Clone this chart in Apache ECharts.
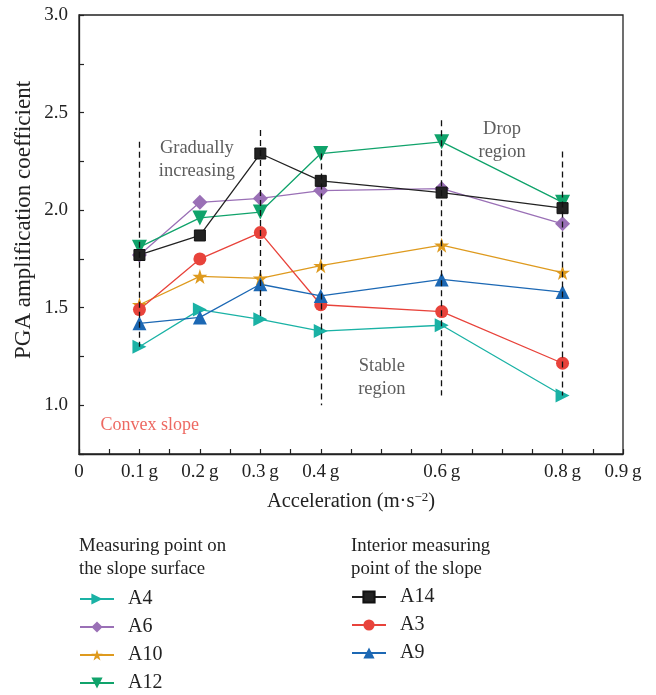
<!DOCTYPE html>
<html>
<head>
<meta charset="utf-8">
<script src="https://cdn.jsdelivr.net/npm/echarts@6/dist/echarts.min.js"></script>
<style>
  html, body { margin: 0; padding: 0; background: #fff; }
  #chart { width: 656px; height: 695px; }
</style>
</head>
<body>
<div id="chart"></div>
<script>
// Peak ground acceleration levels (g) at which the amplification was measured
const accel = [0.1, 0.2, 0.3, 0.4, 0.6, 0.8];

// Measuring points on the slope surface
const A4  = [1.30, 1.49, 1.44, 1.38, 1.41, 1.05];
const A6  = [1.77, 2.04, 2.06, 2.10, 2.11, 1.93];
const A10 = [1.515, 1.66, 1.65, 1.715, 1.82, 1.68];
const A12 = [1.81, 1.96, 1.99, 2.29, 2.35, 2.04];

// Interior measuring points of the slope
const A14 = [1.77, 1.87, 2.29, 2.15, 2.09, 2.01];
const A3  = [1.49, 1.75, 1.885, 1.515, 1.48, 1.215];
const A9  = [1.42, 1.45, 1.62, 1.56, 1.645, 1.58];

// Axis tick labels
const xTickValues = [0, 0.1, 0.2, 0.3, 0.4, 0.6, 0.8, 0.9];
const yTickValues = [1.0, 1.5, 2.0, 2.5, 3.0];

// Region boundaries: [acceleration, top, bottom]
const boundaries = [
  [0.1, 2.35, 1.30],
  [0.3, 2.41, 1.44],
  [0.4, 2.29, 1.00],
  [0.6, 2.46, 1.05],
  [0.8, 2.30, 1.05]
];

// Region notes, anchored in data units
const notes = [
  { text: 'Gradually\nincreasing', x: 0.195, y: 2.26 },
  { text: 'Drop\nregion', x: 0.700, y: 2.355 },
  { text: 'Stable\nregion', x: 0.501, y: 1.14 },
  { text: 'Convex slope', x: 0.117, y: 0.895, red: true }
];

const FONT = 'Liberation Serif';
const INK = '#222';
const STAR = 'path://M50,0 L61.2,34.5 L97.6,34.5 L68.2,55.9 L79.4,90.5 L50,69.1 L20.6,90.5 L31.8,55.9 L2.4,34.5 L38.8,34.5 Z';
const TRI_RIGHT = 'path://M0,0 L10,5.5 L0,11 Z';
const TRI_DOWN = 'path://M0,0 L11,0 L5.5,10 Z';

function pts(arr) { return accel.map((x, i) => [x, arr[i]]); }

function mkSeries(name, arr, color, symbol, size, border) {
  return {
    name: name,
    type: 'line',
    data: pts(arr),
    symbol: symbol,
    symbolSize: size,
    showAllSymbol: true,
    lineStyle: { color: color, width: 1.3 },
    itemStyle: { color: color, borderColor: border || color, borderWidth: border ? 1 : 0 },
    emphasis: { disabled: true },
    z: 3
  };
}

const legendBase = {
  orient: 'vertical',
  padding: 0,
  itemWidth: 34, itemHeight: 14, itemGap: 8,
  textStyle: { fontSize: 20, fontFamily: FONT, color: INK, padding: [0, 0, 0, 9], lineHeight: 20 },
  selectedMode: false
};

const chart = echarts.init(document.getElementById('chart'), null, { renderer: 'canvas' });

const option = {
  backgroundColor: '#fff',
  animation: false,
  textStyle: { fontFamily: FONT },
  grid: {
    left: 79, right: 33, top: 15, bottom: 241,
    show: true, borderColor: INK, borderWidth: 1.3, backgroundColor: 'transparent'
  },
  xAxis: {
    type: 'value',
    min: 0, max: 0.9, interval: 0.05,
    axisLine: { lineStyle: { color: INK, width: 1.3 } },
    axisTick: { inside: true, length: 5, lineStyle: { color: INK, width: 1.2 } },
    splitLine: { show: false },
    axisLabel: {
      color: INK, fontSize: 19, fontFamily: FONT, margin: 9,
      showMinLabel: true, showMaxLabel: true,
      formatter: function (v) {
        const k = Math.round(v * 100);
        const hit = xTickValues.find(t => Math.round(t * 100) === k);
        if (hit === undefined) return '';
        return hit === 0 ? '0' : hit + '\u2009g';
      }
    },
    name: 'Acceleration (m\u00B7s{sup|\u22122})',
    nameLocation: 'middle',
    nameGap: 37,
    nameTextStyle: {
      color: INK, fontSize: 20.5, fontFamily: FONT,
      rich: { sup: { fontSize: 13, verticalAlign: 'top', padding: [0, 0, 9, 0], fontFamily: FONT, color: INK } }
    }
  },
  yAxis: {
    type: 'value',
    min: 0.75, max: 3.0, interval: 0.25,
    axisLine: { show: true, lineStyle: { color: INK, width: 1.3 } },
    axisTick: { show: true, inside: true, length: 5, lineStyle: { color: INK, width: 1.2 } },
    splitLine: { show: false },
    axisLabel: {
      color: INK, fontSize: 19, fontFamily: FONT, margin: 11,
      formatter: function (v) {
        const k = Math.round(v * 100);
        const hit = yTickValues.find(t => Math.round(t * 100) === k);
        return hit === undefined ? '' : hit.toFixed(1);
      }
    }
  },
  legend: [
    Object.assign({ data: ['A4', 'A6', 'A10', 'A12'], left: 79, top: 589 }, legendBase),
    Object.assign({ data: ['A14', 'A3', 'A9'], left: 351, top: 587 }, legendBase)
  ],
  graphic: [
    {
      type: 'text', x: 24, y: 220, rotation: Math.PI / 2,
      style: { text: 'PGA amplification coefficient', font: '23px "Liberation Serif"', fill: INK, align: 'center', verticalAlign: 'middle' }
    },
    {
      type: 'text', left: 79, top: 535,
      style: { text: 'Measuring point on\nthe slope surface', font: '18.8px "Liberation Serif"', fill: INK, lineHeight: 23 }
    },
    {
      type: 'text', left: 351, top: 535,
      style: { text: 'Interior measuring\npoint of the slope', font: '18.8px "Liberation Serif"', fill: INK, lineHeight: 23 }
    }
  ],
  series: [
    mkSeries('A4', A4, '#1ab2a5', TRI_RIGHT, 14),
    mkSeries('A6', A6, '#9a70b6', 'diamond', 15),
    mkSeries('A10', A10, '#de9a1e', STAR, 15),
    mkSeries('A12', A12, '#10a36b', TRI_DOWN, 15),
    mkSeries('A14', A14, '#222222', 'rect', 11, '#111'),
    mkSeries('A3', A3, '#e8433b', 'circle', 13),
    mkSeries('A9', A9, '#1c68b4', 'triangle', 14),
    {
      // dashed region boundaries
      name: 'boundaries',
      type: 'line',
      data: [],
      z: 5,
      silent: true,
      markLine: {
        silent: true,
        symbol: 'none',
        animation: false,
        label: { show: false },
        lineStyle: { color: '#111', width: 1.3, type: [6, 4] },
        data: boundaries.map(b => [{ coord: [b[0], b[1]] }, { coord: [b[0], b[2]] }])
      }
    },
    {
      // region notes
      name: 'notes',
      type: 'scatter',
      symbolSize: 0,
      silent: true,
      z: 6,
      data: notes.map(n => ({
        name: n.text,
        value: [n.x, n.y],
        label: n.red ? { color: '#e8433b', fontSize: 18 } : undefined
      })),
      label: {
        show: true, position: 'inside', formatter: '{b}',
        fontFamily: FONT, fontSize: 18.5, color: '#333', lineHeight: 23,
        align: 'center', verticalAlign: 'middle'
      }
    }
  ]
};

chart.setOption(option);
</script>
</body>
</html>
